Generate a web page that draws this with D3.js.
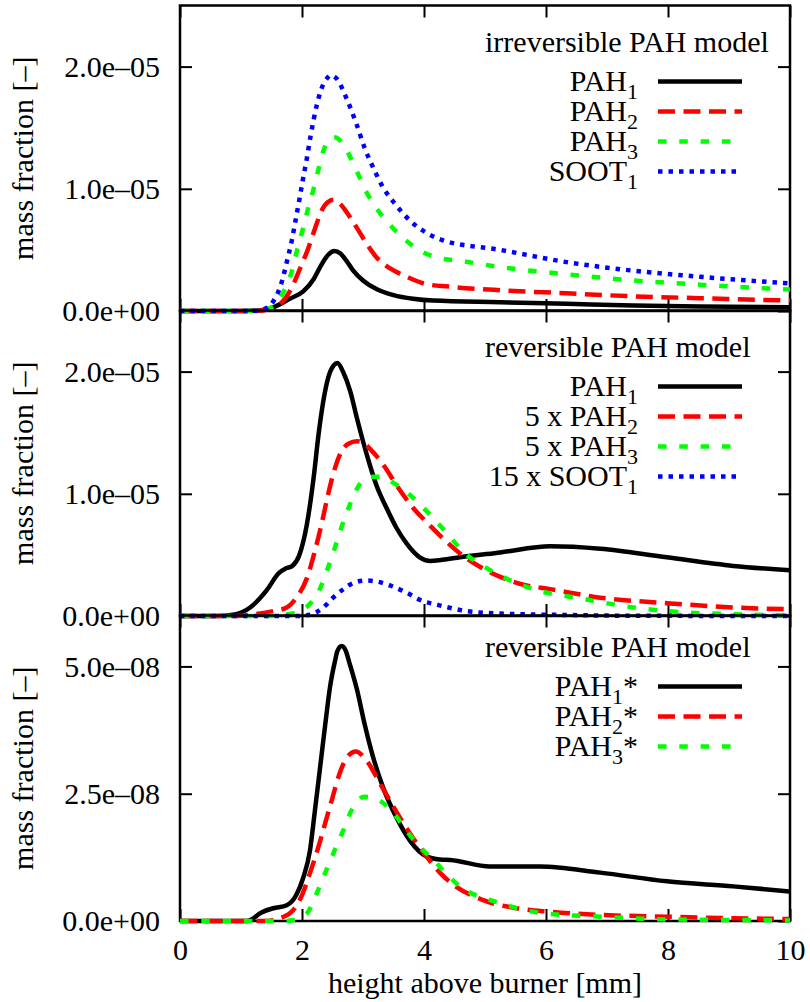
<!DOCTYPE html>
<html>
<head>
<meta charset="utf-8">
<script src="https://cdn.jsdelivr.net/npm/d3@7"></script>
<style>
  body { margin: 0; background: #fff; }
</style>
</head>
<body>
<script>
// x ticks (height above burner, mm)
const xTicks = [0, 2, 4, 6, 8, 10];

// panel 1: irreversible PAH model, values in units of 1e-5
const irrPah1 = [[0,0],[1.0,0],[1.3,0.005],[1.53,0.03],[1.8,0.10],[2.02,0.16],[2.19,0.26],[2.32,0.38],[2.43,0.46],[2.53,0.49],[2.63,0.47],[2.73,0.41],[2.84,0.33],[3.0,0.25],[3.22,0.18],[3.5,0.13],[3.82,0.10],[4.15,0.085],[5.25,0.072],[6.34,0.059],[7.43,0.046],[8.52,0.037],[10,0.03]];
const irrPah2 = [[0,0],[1.2,0],[1.5,0.02],[1.65,0.06],[1.8,0.16],[1.97,0.35],[2.10,0.51],[2.21,0.67],[2.32,0.82],[2.42,0.89],[2.52,0.91],[2.62,0.88],[2.73,0.81],[2.90,0.68],[3.06,0.55],[3.22,0.44],[3.44,0.35],[3.72,0.28],[4.04,0.22],[4.4,0.20],[5.25,0.17],[6.34,0.145],[7.43,0.12],[8.52,0.105],[10,0.085]];
const irrPah3 = [[0,0],[1.2,0],[1.5,0.03],[1.69,0.15],[1.83,0.32],[1.91,0.48],[2.02,0.68],[2.10,0.84],[2.19,1.0],[2.27,1.16],[2.35,1.31],[2.46,1.41],[2.55,1.42],[2.65,1.38],[2.76,1.29],[2.92,1.12],[3.06,0.97],[3.25,0.82],[3.47,0.69],[3.72,0.57],[3.99,0.48],[4.2,0.44],[4.6,0.41],[5.25,0.36],[6.34,0.30],[7.43,0.25],[8.52,0.215],[10,0.175]];
const irrSoot1 = [[0,0],[1.2,0],[1.4,0.02],[1.53,0.08],[1.67,0.24],[1.75,0.40],[1.83,0.57],[1.89,0.73],[1.96,0.92],[2.02,1.09],[2.08,1.25],[2.14,1.43],[2.24,1.68],[2.32,1.82],[2.42,1.91],[2.47,1.93],[2.57,1.90],[2.73,1.74],[2.90,1.52],[3.03,1.33],[3.17,1.17],[3.33,1.01],[3.52,0.88],[3.77,0.74],[4.04,0.64],[4.3,0.58],[5.25,0.50],[6.34,0.40],[7.43,0.33],[8.52,0.28],[10,0.225]];

// panel 2: reversible PAH model, values in units of 1e-5
const revPah1 = [[0,0],[0.6,0],[0.87,0.01],[1.15,0.07],[1.42,0.21],[1.62,0.35],[1.74,0.39],[1.84,0.41],[1.95,0.49],[2.08,0.75],[2.19,1.13],[2.27,1.48],[2.35,1.76],[2.43,1.95],[2.52,2.05],[2.58,2.07],[2.68,1.99],[2.79,1.84],[2.90,1.62],[3.0,1.43],[3.11,1.24],[3.22,1.07],[3.39,0.88],[3.55,0.72],[3.72,0.59],[3.93,0.48],[4.1,0.45],[4.3,0.46],[4.59,0.48],[5.25,0.52],[6.07,0.57],[6.89,0.55],[7.98,0.48],[9.07,0.41],[10,0.375]];
const revPah2x5 = [[0,0],[0.9,0],[1.15,0.01],[1.53,0.04],[1.75,0.07],[1.91,0.15],[2.08,0.31],[2.21,0.53],[2.32,0.75],[2.43,1.00],[2.54,1.21],[2.65,1.35],[2.76,1.41],[2.9,1.43],[3.0,1.42],[3.11,1.37],[3.33,1.24],[3.55,1.07],[3.83,0.88],[4.10,0.74],[4.3,0.64],[4.70,0.47],[5.0,0.38],[5.25,0.32],[5.6,0.26],[6.07,0.22],[6.89,0.15],[7.98,0.105],[9.07,0.07],[10,0.055]];
const revPah3x5 = [[0,0],[1.4,0],[1.69,0.01],[1.97,0.04],[2.13,0.10],[2.30,0.23],[2.43,0.40],[2.54,0.56],[2.65,0.73],[2.76,0.88],[2.90,1.04],[3.0,1.11],[3.17,1.14],[3.3,1.14],[3.50,1.09],[3.77,0.99],[4.04,0.86],[4.3,0.72],[4.70,0.50],[5.0,0.40],[5.25,0.33],[5.79,0.22],[6.61,0.14],[7.43,0.07],[8.25,0.03],[9.07,0.015],[10,0.005]];
const revSoot1x15 = [[0,0],[1.9,0],[2.13,0.01],[2.35,0.07],[2.51,0.15],[2.68,0.22],[2.84,0.27],[3.05,0.29],[3.25,0.28],[3.44,0.25],[3.72,0.19],[3.99,0.12],[4.15,0.10],[4.70,0.04],[5.25,0.02],[6.34,0.008],[7.5,0.002],[10,0]];

// panel 3: reversible PAH model, radicals, values in units of 1e-8
const revPah1s = [[0,0],[1.1,0],[1.2,0.05],[1.31,0.15],[1.53,0.25],[1.75,0.31],[1.91,0.52],[2.02,0.85],[2.13,1.38],[2.21,2.15],[2.30,3.05],[2.38,3.85],[2.46,4.6],[2.54,5.1],[2.58,5.3],[2.65,5.4],[2.72,5.3],[2.77,5.1],[2.90,4.55],[3.03,3.85],[3.17,3.2],[3.33,2.62],[3.55,2.03],[3.77,1.58],[4.04,1.27],[4.26,1.21],[4.43,1.2],[5.08,1.07],[5.90,1.07],[6.89,0.95],[7.98,0.78],[9.07,0.68],[10,0.58]];
const revPah2s = [[0,0],[1.4,0],[1.69,0.08],[1.86,0.22],[1.99,0.48],[2.13,0.94],[2.27,1.46],[2.38,1.92],[2.49,2.38],[2.60,2.84],[2.73,3.2],[2.88,3.33],[3.06,3.15],[3.28,2.7],[3.50,2.24],[3.77,1.72],[4.04,1.27],[4.26,0.95],[4.43,0.76],[4.97,0.41],[5.52,0.25],[6.07,0.18],[6.89,0.12],[7.98,0.085],[9.07,0.055],[10,0.04]];
const revPah3s = [[0,0],[1.7,0],[1.86,0.02],[2.08,0.15],[2.24,0.54],[2.40,1.0],[2.54,1.40],[2.68,1.79],[2.81,2.17],[2.92,2.37],[3.02,2.44],[3.15,2.42],[3.28,2.36],[3.50,2.12],[3.72,1.76],[3.93,1.46],[4.15,1.2],[4.59,0.68],[5.25,0.35],[5.96,0.15],[6.89,0.085],[7.98,0.03],[9.07,0.02],[10,0.01]];

// y ticks and labels
const yTicks1 = [0, 1, 2];
const yLabels1 = ["0.0e+00", "1.0e\u201305", "2.0e\u201305"];
const yTicks3 = [0, 2.5, 5];
const yLabels3 = ["0.0e+00", "2.5e\u201308", "5.0e\u201308"];

// legend titles and entries [text, subscript, suffix]
const titles = ["irreversible PAH model", "reversible PAH model", "reversible PAH model"];
const names1 = [["PAH","1",""],["PAH","2",""],["PAH","3",""],["SOOT","1",""]];
const names2 = [["PAH","1",""],["5 x PAH","2",""],["5 x PAH","3",""],["15 x SOOT","1",""]];
const names3 = [["PAH","1","*"],["PAH","2","*"],["PAH","3","*"]];

const colors = ["#000000", "#ff0000", "#00ff00", "#0000ff"];
const dashes = [null, "17,8.5", "8.5,12.8", "4.5,6"];

const panels = [
  { series: [irrPah1, irrPah2, irrPah3, irrSoot1], ymax: 2.5, ticks: yTicks1, labels: yLabels1, names: names1, keyY: 46 },
  { series: [revPah1, revPah2x5, revPah3x5, revSoot1x15], ymax: 2.5, ticks: yTicks1, labels: yLabels1, names: names2, keyY: 46 },
  { series: [revPah1s, revPah2s, revPah3s], ymax: 6, ticks: yTicks3, labels: yLabels3, names: names3, keyY: 41 }
];

const W = 810, H = 1002;
const left = 180, right = 790;
const panelTop = [5.5, 310.5, 615.5];
const panelH = 305.5;
const fontSize = 30;

const svg = d3.select("body").append("svg")
  .attr("width", W)
  .attr("height", H)
  .style("font-family", "'Liberation Serif', 'Times New Roman', serif");

const x = d3.scaleLinear().domain([0, 10]).range([left, right]);

function styleAxis(sel) {
  sel.attr("font-family", null).attr("font-size", fontSize);
  sel.select(".domain").remove();
  sel.selectAll(".tick line").attr("stroke", "#000").attr("stroke-width", 2);
  sel.selectAll(".tick text").attr("fill", "#000");
}

panels.forEach((p, i) => {
  const top = panelTop[i];
  const bot = top + panelH;
  const y = d3.scaleLinear().domain([0, p.ymax]).range([bot, top]);
  const g = svg.append("g");

  // axes with inward ticks on all sides
  g.append("g").attr("transform", `translate(${left},0)`)
    .call(d3.axisLeft(y).tickValues(p.ticks).tickFormat((d, j) => p.labels[j])
      .tickSizeInner(-12).tickSizeOuter(0).tickPadding(20))
    .call(styleAxis);
  g.append("g").attr("transform", `translate(${right},0)`)
    .call(d3.axisRight(y).tickValues(p.ticks).tickFormat("")
      .tickSizeInner(-12).tickSizeOuter(0))
    .call(styleAxis);
  g.append("g").attr("transform", `translate(0,${top})`)
    .call(d3.axisTop(x).tickValues(xTicks).tickFormat("")
      .tickSizeInner(-12).tickSizeOuter(0))
    .call(styleAxis);
  g.append("g").attr("transform", `translate(0,${bot})`)
    .call(d3.axisBottom(x).tickValues(xTicks).tickFormat(i === 2 ? d3.format("d") : "")
      .tickSizeInner(-12).tickSizeOuter(0).tickPadding(17.5))
    .call(styleAxis);

  g.append("rect")
    .attr("x", left).attr("y", top)
    .attr("width", right - left).attr("height", panelH)
    .attr("fill", "none").attr("stroke", "#000").attr("stroke-width", 2.5);

  // y label
  g.append("text")
    .attr("transform", `translate(33,${(top + bot) / 2}) rotate(-90)`)
    .attr("text-anchor", "middle")
    .attr("font-size", fontSize)
    .text("mass fraction [\u2013]");

  // curves
  const line = d3.line().x(d => x(d[0])).y(d => y(d[1])).curve(d3.curveMonotoneX);
  p.series.forEach((s, k) => {
    g.append("path")
      .attr("d", line(s))
      .attr("fill", "none")
      .attr("stroke", colors[k])
      .attr("stroke-width", 4.5)
      .attr("stroke-dasharray", dashes[k]);
  });

  // key
  g.append("text")
    .attr("x", 485).attr("y", top + p.keyY)
    .attr("font-size", fontSize)
    .text(titles[i]);

  p.names.forEach((n, k) => {
    const ly = top + p.keyY + 30 * (k + 1);
    g.append("line")
      .attr("x1", 658).attr("x2", 742)
      .attr("y1", ly).attr("y2", ly)
      .attr("stroke", colors[k])
      .attr("stroke-width", 4.5)
      .attr("stroke-dasharray", dashes[k]);
    const t = g.append("text")
      .attr("x", 638).attr("y", ly + 9)
      .attr("text-anchor", "end")
      .attr("font-size", fontSize);
    t.append("tspan").text(n[0]);
    t.append("tspan").attr("dy", 8.5).attr("font-size", 22).text(n[1]);
    if (n[2]) t.append("tspan").attr("dy", -8.5).text(n[2]);
  });
});

svg.append("text")
  .attr("x", (left + right) / 2).attr("y", 993)
  .attr("text-anchor", "middle")
  .attr("font-size", fontSize)
  .text("height above burner [mm]");
</script>
</body>
</html>
